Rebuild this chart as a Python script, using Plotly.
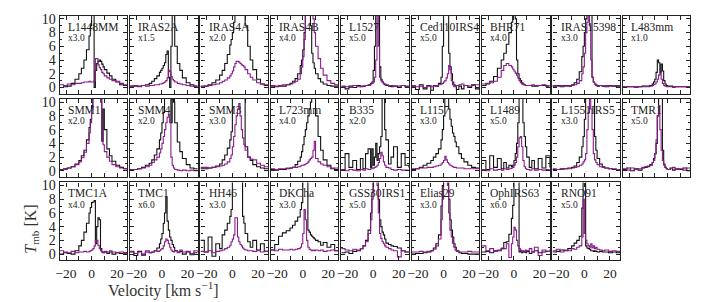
import plotly.graph_objects as go

# shared velocity channels (km/s); each value holds until the next channel
velocity = [-25, -22, -19, -16, -13, -10, -8, -6, -4, -2, -1, 0, 1, 2, 3, 4, 5, 6, 7, 8, 9, 10, 12, 14, 16, 19, 22, 25, 28]

names = ["L1448MM", "IRAS2A", "IRAS4A", "IRAS4B", "L1527", "Ced110IRS4", "BHR71", "IRAS15398", "L483mm",
         "SMM1", "SMM4", "SMM3", "L723mm", "B335", "L1157", "L1489", "L1551IRS5", "TMR1",
         "TMC1A", "TMC1", "HH46", "DKCha", "GSS30IRS1", "Elias29", "OphIRS63", "RNO91"]
scale_labels = ["x3.0", "x1.5", "x2.0", "x4.0", "x5.0", "x5.0", "x4.0", "x3.0", "x1.0",
                "x2.0", "x2.0", "x3.0", "x4.0", "x2.0", "x3.0", "x5.0", "x3.0", "x5.0",
                "x4.0", "x6.0", "x3.0", "x3.0", "x5.0", "x3.0", "x6.0", "x5.0"]

x_tick_vals = [-20, 0, 20]
x_tick_text = ["\u221220", "0", "20"]
y_tick_vals = [0, 2, 4, 6, 8, 10]

l1448mm_black = [0, 0.1, 0.2, 0.6, 1.2, 2, 2.8, 4, 5.5, 7.5, 9, 11, 11, 0, 2.5, 3.5, 3.8, 4.0, 3.8, 3.4, 3.0, 2.6, 2.1, 1.7, 1.2, 0.8, 0.4, 0.3, 0.3]
l1448mm_purple = [0.4, 0.3, 0.5, 0.4, 0.6, 0.6, 0.7, 0.8, 0.8, 0.9, 0.8, 0.8, 0.8, 1.0, 4.2, 4.2, 3.3, 2.9, 2.6, 2.2, 2.0, 1.7, 1.4, 1.2, 1.0, 0.9, 0.6, 0.4, 0.4]
iras2a_black = [0.2, 0.2, 0.2, 0.3, 0.4, 0.6, 0.9, 1.3, 1.7, 2.2, 2.5, 2.8, 3.2, 3.6, 4.8, 5.3, 1.5, 0.0, 6, 11, 11, 6, 3.5, 2.5, 1.4, 0.7, 0.4, 0.2, 0.2]
iras2a_purple = [0.2, 0.3, 0.1, 0.3, 0.2, 0.3, 0.3, 0.4, 0.4, 0.5, 0.5, 0.6, 0.7, 0.8, 1.0, 1.4, 2.5, 2.3, 1.6, 1.2, 1.0, 0.8, 0.6, 0.5, 0.4, 0.3, 0.2, 0.2, 0.2]
iras4a_black = [0.1, 0.2, 0.4, 0.7, 1.1, 1.8, 2.5, 3.5, 4.8, 6.2, 7, 8, 9.5, 11, 12, 12, 12, 12, 12, 12, 12, 9, 6, 4, 2.6, 1.2, 0.5, 0.3, 0.3]
iras4a_purple = [0.2, 0.2, 0.3, 0.4, 0.5, 0.7, 0.9, 1.1, 1.4, 1.7, 2.0, 2.4, 3.0, 3.5, 3.8, 3.8, 3.7, 3.5, 3.3, 3.2, 3.0, 2.6, 2.0, 1.5, 1.1, 0.7, 0.5, 0.4, 0.4]
iras4b_black = [0.2, 0.1, 0.2, 0.2, 0.4, 0.6, 0.9, 1.3, 2.0, 3.2, 4.0, 5.5, 8, 12, 12, 12, 12, 9, 5, 3.6, 2.8, 2.0, 1.3, 0.8, 0.5, 0.3, 0.2, 0.2, 0.2]
iras4b_purple = [0.3, 0.2, 0.3, 0.4, 0.4, 0.5, 0.7, 0.9, 1.2, 2.0, 3, 4.5, 7, 12, 12, 12, 12, 12, 12, 10, 8, 6, 4.2, 2.8, 1.8, 1.0, 0.6, 0.4, 0.4]
l1527_black = [0.1, -0.2, 0.2, 0.0, 0.3, 0.1, 0.2, 0.3, 0.4, 0.6, 0.8, 2.5, 6, 12, 12, 12, 3, 1.2, 0.8, 0.5, 0.4, 0.3, 0.2, 0.1, 0.2, 0.0, 0.3, 0.1, 0.1]
l1527_purple = [0.2, 0.1, 0.0, 0.3, 0.1, 0.2, 0.2, 0.3, 0.3, 0.5, 0.6, 0.8, 1.5, 4, 12, 6, 1.5, 1.0, 0.8, 0.6, 0.5, 0.4, 0.3, 0.3, 0.2, 0.2, 0.3, 0.2, 0.2]
ced110_black = [0.2, -0.3, 0.4, -0.2, 0.3, -0.4, 0.3, 0.2, 0.6, 1.5, 6, 12, 12, 12, 12, 5, 3, 2, 0.8, 0.4, 0.3, -0.3, 0.2, -0.2, 0.3, 0.0, 0.4, -0.2, 0.1]
ced110_purple = [0.3, 0.1, 0.2, 0.0, 0.2, 0.1, 0.2, 0.3, 0.4, 0.5, 0.6, 0.8, 1.0, 1.4, 2.0, 3.2, 2.6, 1.0, 0.4, 0.1, 0.2, 0.3, 0.4, 0.5, 0.3, 0.2, 0.3, 0.4, 0.3]
bhr71_black = [0.3, 0.5, 0.9, 1.6, 2.8, 4.0, 5.0, 6.3, 8.0, 9.5, 11, 12, 10, 4, 2, 1.3, 1.0, 0.7, 0.5, 0.4, 0.3, 0.3, 0.3, 0.2, 0.2, 0.3, 0.3, 0.2, 0.2]
bhr71_purple = [0.5, 0.6, 0.7, 0.9, 1.5, 2.5, 3.2, 3.5, 3.2, 3.0, 2.7, 2.4, 2.1, 1.8, 1.4, 1.0, 0.7, 0.5, 0.4, 0.4, 0.3, 0.3, 0.3, 0.4, 0.3, 0.3, 0.4, 0.3, 0.3]
iras15398_black = [0.2, 0.3, 0.1, 0.3, 0.2, 0.4, 0.7, 1.2, 2.3, 4.5, 6, 8, 10, 12, 12, 12, 12, 1.5, 0.8, 0.5, 0.3, 0.2, 0.3, 0.2, 0.1, 0.3, 0.2, 0.1, 0.2]
iras15398_purple = [0.3, 0.2, 0.3, 0.2, 0.3, 0.3, 0.4, 0.6, 1.0, 2, 3, 5, 8, 9.5, 10.5, 9, 4, 1.5, 0.8, 0.5, 0.4, 0.3, 0.3, 0.2, 0.3, 0.2, 0.3, 0.3, 0.3]
l483mm_black = [0.1, 0.1, 0.1, 0.1, 0.1, 0.2, 0.2, 0.2, 0.3, 0.5, 0.8, 1.2, 2.2, 4.0, 3.6, 2.2, 3.4, 2.4, 1.0, 0.5, 0.3, 0.2, 0.2, 0.1, 0.1, 0.1, 0.1, 0.1, 0.1]
l483mm_purple = [0.0, 0.1, 0.1, 0.0, 0.1, 0.1, 0.1, 0.1, 0.2, 0.3, 0.4, 0.5, 0.8, 1.2, 1.8, 2.1, 1.2, 0.6, 0.3, 0.2, 0.1, 0.1, 0.1, 0.0, 0.1, 0.1, 0.1, 0.1, 0.1]

smm1_black = [0.2, 0.3, 0.4, 0.6, 1.0, 1.5, 2.2, 3, 4.5, 6.3, 7.5, 9.5, 12, 12, 12, 12, 12, 12, 12, 4.3, 9, 6, 3.2, 2.2, 1.4, 0.8, 0.5, 0.3, 0.3]
smm1_purple = [0.1, 0.2, 0.4, 0.6, 0.9, 1.3, 1.9, 2.7, 4, 5.5, 7, 9, 12, 12, 12, 12, 12, 12, 10, 6, 3.8, 2.8, 2.0, 1.4, 0.9, 0.6, 0.4, 0.3, 0.3]
smm4_black = [0.2, 0.2, 0.3, 0.5, 0.8, 1.1, 1.6, 2.3, 3.2, 4.5, 5.5, 7, 8.5, 11, 12, 12, 12, 12, 7, 12, 10, 7, 4.2, 2.8, 1.8, 0.9, 0.4, 0.3, 0.3]
smm4_purple = [0.1, 0.2, 0.3, 0.4, 0.6, 0.8, 1.2, 1.6, 2.0, 2.6, 3.2, 4, 5, 6, 7, 7.8, 8.2, 7, 2, 0.8, 0.4, 0.2, 0.1, 0.0, 0.1, 0.0, 0.1, 0.0, 0.0]
smm3_black = [0.3, 0.3, 0.4, 0.5, 0.7, 1.0, 1.6, 2.3, 3.3, 4.5, 5.7, 12, 12, 12, 12, 12, 12, 12, 12, 12, 12, 3.5, 2.0, 1.5, 0.9, 0.6, 0.4, 0.3, 0.3]
smm3_purple = [0.5, 0.5, 0.4, 0.5, 0.6, 0.7, 0.8, 1.0, 1.3, 1.8, 2.3, 3.5, 5, 6.7, 8, 9, 9.8, 8, 6, 4.8, 3.8, 3.0, 2.0, 1.7, 1.6, 1.1, 0.8, 0.6, 0.6]
l723mm_black = [0.2, 0.1, 0.2, 0.2, 0.3, 0.4, 0.5, 0.9, 1.4, 2.0, 2.8, 3.8, 5, 6, 7, 8, 9, 10, 11, 12, 12, 8, 5, 3, 1.6, 0.8, 0.3, 0.2, 0.2]
l723mm_purple = [0.3, 0.2, 0.3, 0.3, 0.4, 0.4, 0.5, 0.5, 0.6, 0.7, 0.8, 0.8, 0.9, 1.0, 1.1, 1.3, 1.6, 1.8, 2.0, 3.0, 4.3, 1.8, 1.3, 1.0, 0.8, 0.6, 0.4, 0.4, 0.3]
b335_black = [0.2, 2.5, 0.5, 1.5, 0.2, 1.8, 0.3, 2.5, 3.2, 0.5, 3.2, 0.8, 2.0, 4.0, 1.5, 2.5, 3.5, 5, 12, 12, 6, 4.5, 1.0, 2.0, 3.5, 0.5, 2.5, 0.8, 0.5]
b335_purple = [0.1, 0.0, 0.2, 0.1, 0.0, 0.2, 0.1, 0.3, 0.2, 0.3, 0.3, 0.4, 0.5, 0.6, 0.8, 1.2, 1.8, 2.7, 2.2, 1.3, 0.8, 0.5, 0.4, 0.2, 0.1, 0.2, 0.1, 0.1, 0.1]
l1157_black = [0.2, 0.3, 0.5, 0.8, 1.1, 1.5, 2.0, 2.5, 3.2, 4.5, 6, 8, 12, 12, 12, 9, 7.5, 6.5, 5.5, 5, 4.2, 3.5, 2.5, 1.8, 1.3, 0.8, 0.5, 0.4, 0.3]
l1157_purple = [0.3, 0.3, 0.4, 0.4, 0.5, 0.5, 0.6, 0.7, 0.8, 1.0, 1.2, 1.5, 2.1, 1.6, 1.2, 1.0, 0.8, 0.7, 0.6, 0.5, 0.5, 0.4, 0.4, 0.4, 0.3, 0.3, 0.3, 0.3, 0.3]
l1489_black = [1.5, 0.2, 2.2, 0.5, 1.8, 0.3, 1.2, 0.4, 0.8, 0.6, 0.8, 1.5, 2.5, 4, 7, 12, 12, 12, 7, 5, 3.5, 2, 0.5, 1.5, 0.3, 1.8, 0.4, 2.2, 0.5]
l1489_purple = [0.2, 0.0, 0.3, 0.1, 0.2, 0.1, 0.3, 0.2, 0.3, 0.4, 0.5, 0.8, 1.2, 2, 3.5, 4.8, 5.0, 3.5, 1.5, 0.6, 0.3, 0.2, 0.1, 0.3, 0.1, 0.2, 0.1, 0.2, 0.1]
l1551_black = [0.2, 0.2, 0.3, 0.3, 0.4, 0.5, 0.7, 1.2, 2.0, 3.5, 5, 7.5, 12, 12, 12, 12, 12, 12, 12, 5, 3, 1.8, 1.0, 0.6, 0.4, 0.3, 0.2, 0.2, 0.2]
l1551_purple = [0.3, 0.2, 0.2, 0.3, 0.3, 0.4, 0.5, 0.6, 0.8, 1.0, 1.3, 1.6, 2.5, 6, 8.5, 10.5, 9, 6, 2.5, 1.6, 1.2, 0.9, 0.6, 0.5, 0.4, 0.3, 0.3, 0.2, 0.2]
tmr1_black = [0.2, 0.4, 0.0, 0.3, 0.1, 0.4, 0.5, 0.6, 0.8, 1.2, 1.8, 2.5, 4, 8, 12, 12, 12, 3, 1, 0.5, 0.3, 0.2, 0.4, 0.1, 0.3, 0.2, 0.4, 0.0, 0.3]
tmr1_purple = [0.3, 0.1, 0.4, 0.2, 0.3, 0.5, 0.6, 0.7, 0.9, 1.2, 1.5, 2.5, 4.5, 8, 9.5, 6, 3, 1.5, 0.8, 0.5, 0.3, 0.2, 0.3, 0.5, 0.2, 0.3, 0.1, 0.4, 0.2]

tmc1a_black = [0.0, 0.2, 0.1, 0.0, 0.5, 1.2, 2.0, 3.2, 4.5, 6, 6.8, 7.5, 7.6, 7.8, 1.5, 4.0, 5.3, 5.0, 0.8, 0.3, 0.2, 0.3, 0.1, 0.3, 0.0, 0.2, 0.1, 0.2, 0.0]
tmc1a_purple = [0.5, 0.3, 0.2, 0.4, 0.2, 0.3, 0.3, 0.4, 0.3, 0.4, 0.5, 0.6, 0.8, 1.2, 2, 2, 1.3, 0.8, 0.5, 0.3, 0.2, 0.4, 0.3, 0.5, 0.3, 0.2, 0.3, 0.1, 0.2]
tmc1_black = [0.3, -0.2, 0.4, 0.0, 0.3, 0.2, 0.3, 0.5, 0.9, 1.5, 2.2, 3, 4.5, 6, 8.3, 4.8, 3.5, 2.5, 2, 1.4, 1.0, 0.5, 0.3, 0.4, 0.0, 0.3, -0.1, 0.2, 0.2]
tmc1_purple = [0.4, 0.1, 0.3, -0.2, 0.5, 0.2, 0.3, 0.5, 0.4, 0.5, 0.7, 0.8, 1.2, 1.8, 2.2, 2.0, 1.5, 1.0, 0.6, 0.4, 0.3, 0.5, 0.2, 0.6, 0.3, 0.4, 0.1, 0.5, 0.3]
hh46_black = [2.0, 0.3, 2.5, -0.3, 1.5, 0.8, 2.8, 3.5, 4.5, 5.5, 6.5, 12, 12, 12, 12, 12, 12, 12, 12, 5.5, 4.5, 3.0, 1.8, 1.0, 2.0, 0.6, 1.5, 0.4, 0.4]
hh46_purple = [0.4, 0.3, 0.5, 0.2, 0.4, 0.5, 0.6, 0.8, 1.0, 1.3, 1.8, 2.2, 2.8, 5.3, 5.3, 2.5, 1.8, 1.4, 1.2, 0.9, 0.7, 0.6, 0.5, 0.5, 0.4, 0.5, 0.3, 0.4, 0.4]
dkcha_black = [0.6, 1.4, 2.6, 3.1, 3.4, 3.8, 4.2, 4.8, 5.4, 6.5, 7.5, 12, 12, 12, 12, 3.5, 3.2, 2.8, 2.6, 2.4, 2.2, 2.0, 1.8, 1.3, 1.7, 1.0, 1.4, 0.5, 0.3]
dkcha_purple = [0.6, 0.5, 0.7, 0.6, 0.6, 0.7, 0.6, 0.7, 0.8, 1.0, 1.5, 3.0, 6.5, 5.0, 2.0, 1.0, 0.7, 0.6, 0.5, 0.6, 0.5, 0.6, 0.5, 0.6, 0.4, 0.5, 0.6, 0.5, 0.5]
gss30_black = [0.2, 0.3, 0.1, 0.4, 0.5, 0.8, 1.2, 2.0, 3.5, 6, 9, 12, 12, 12, 12, 8, 5, 4, 3.2, 2.8, 2.2, 1.6, 1.4, 1.2, 1.1, 0.9, 0.5, 0.3, 0.3]
gss30_purple = [0.8, 0.6, 0.5, 0.7, 0.6, 0.8, 1.2, 1.8, 3, 5, 8, 12, 12, 12, 10, 6, 3, 2.3, 1.8, 1.5, 1.2, 1.0, 0.8, 0.6, 0.5, -0.4, 0.5, 0.3, 0.4]
elias29_black = [0.0, 0.1, 0.1, 0.2, 0.3, 0.5, 0.9, 1.5, 2.8, 7, 10, 12, 12, 12, 12, 8, 5, 3.5, 2.5, 1.5, 1.0, 0.5, 0.2, 0.1, 0.1, 0.0, 0.0, 0.0, 0.0]
elias29_purple = [0.3, 0.3, 0.4, 0.3, 0.4, 0.5, 0.7, 1.2, 2.2, 5, 8, 12, 12, 12, 10, 6, 3.5, 2.5, 1.6, 1.0, 0.6, 0.4, 0.3, 0.3, 0.3, 0.4, 0.3, 0.3, 0.3]
ophirs63_black = [0.3, 0.4, 0.2, 0.5, 0.5, 0.8, 1.7, 1.8, 2.9, 5.2, 7.1, 12, 12, 12, 12, 0.3, 0.5, 0.2, 0.4, 0.3, 0.2, 0.4, 0.1, 0.3, 0.5, 0.2, 0.3, 0.4, 0.4]
ophirs63_purple = [1.2, 0.5, 0.8, 0.4, 0.6, 0.9, 0.8, 1.5, -0.5, 1.5, 2.5, 3.9, 3.5, 2, 1.2, 0.8, 0.6, 0.4, 0.5, 0.3, 0.6, 0.5, 0.8, 0.3, 1.0, -0.2, 0.6, 0.4, 0.7]
rno91_black = [0.3, 0.4, 0.6, 0.5, 0.8, 1.2, 1.6, 2.0, 2.6, 6.7, 12, 12, 1.2, 0.9, 0.8, 0.7, 0.5, 0.5, 0.4, 0.5, 0.4, 0.3, 0.4, 0.3, 0.3, 0.2, 0.3, 0.2, 0.3]
rno91_purple = [0.5, 0.7, 0.3, 0.6, 0.5, 0.8, 0.7, 1.0, 1.2, 2.5, 8, 3, 2, 1.5, 1.2, 1.0, 1.5, 0.9, 1.2, 0.8, 1.0, 0.7, 0.6, 0.5, 0.6, 0.4, 0.5, 0.4, 0.5]

black_series = [l1448mm_black, iras2a_black, iras4a_black, iras4b_black, l1527_black, ced110_black, bhr71_black,
                iras15398_black, l483mm_black, smm1_black, smm4_black, smm3_black, l723mm_black, b335_black,
                l1157_black, l1489_black, l1551_black, tmr1_black, tmc1a_black, tmc1_black, hh46_black,
                dkcha_black, gss30_black, elias29_black, ophirs63_black, rno91_black]
purple_series = [l1448mm_purple, iras2a_purple, iras4a_purple, iras4b_purple, l1527_purple, ced110_purple, bhr71_purple,
                 iras15398_purple, l483mm_purple, smm1_purple, smm4_purple, smm3_purple, l723mm_purple, b335_purple,
                 l1157_purple, l1489_purple, l1551_purple, tmr1_purple, tmc1a_purple, tmc1_purple, hh46_purple,
                 dkcha_purple, gss30_purple, elias29_purple, ophirs63_purple, rno91_purple]

W, H = 704, 302
PW, PH = 68, 79.5
col_left = [56 + 70.8 * i for i in range(9)]
row_top = [12, 97, 182]
SERIF = "Liberation Serif, DejaVu Serif, serif"
BLACK = "#111111"
PURPLE = "#8a1a8a"
AX = "#222222"

fig = go.Figure()
layout = {}
annotations = []
for k, name in enumerate(names):
    r = 0 if k < 9 else (1 if k < 18 else 2)
    c = k - 9 * r
    idx = k + 1
    xa = "x" if idx == 1 else f"x{idx}"
    ya = "y" if idx == 1 else f"y{idx}"
    fig.add_trace(go.Scatter(x=velocity, y=black_series[k], mode="lines",
                             line=dict(color=BLACK, width=1.1, shape="hv"),
                             xaxis=xa, yaxis=ya, showlegend=False, hoverinfo="skip"))
    fig.add_trace(go.Scatter(x=velocity, y=purple_series[k], mode="lines",
                             line=dict(color=PURPLE, width=1.1, shape="hv"),
                             xaxis=xa, yaxis=ya, showlegend=False, hoverinfo="skip"))
    x0 = col_left[c] / W
    x1 = (col_left[c] + PW) / W
    y1 = 1 - row_top[r] / H
    y0 = 1 - (row_top[r] + PH) / H
    xkey = "xaxis" if idx == 1 else f"xaxis{idx}"
    ykey = "yaxis" if idx == 1 else f"yaxis{idx}"
    layout[xkey] = dict(domain=[x0, x1], anchor=ya, range=[-25, 28],
                        tickmode="array", tickvals=x_tick_vals, ticktext=x_tick_text,
                        showticklabels=(r == 2), ticks="inside", ticklen=4, tickwidth=1,
                        tickcolor=AX, showline=True, linecolor=AX, linewidth=1.3,
                        mirror="ticks", showgrid=False, zeroline=False,
                        minor=dict(tickvals=[-10, 10], ticklen=4, ticks="inside", tickcolor=AX),
                        tickfont=dict(family=SERIF, size=13.5, color=AX))
    layout[ykey] = dict(domain=[y0, y1], anchor=xa, range=[-0.9, 10.45],
                        tickmode="array", tickvals=y_tick_vals,
                        showticklabels=(c == 0), ticks="inside", ticklen=4, tickwidth=1,
                        tickcolor=AX, showline=True, linecolor=AX, linewidth=1.3,
                        mirror="ticks", showgrid=False, zeroline=False,
                        minor=dict(dtick=1, ticklen=2, ticks="inside", tickcolor=AX),
                        tickfont=dict(family=SERIF, size=14, color=AX))
    annotations.append(dict(xref=f"{xa} domain", yref=f"{ya} domain", x=0.09, y=0.86,
                            xanchor="left", yanchor="middle", text=name, showarrow=False,
                            font=dict(family=SERIF, size=11.5, color=AX)))
    annotations.append(dict(xref=f"{xa} domain", yref=f"{ya} domain", x=0.09, y=0.715,
                            xanchor="left", yanchor="middle", text=scale_labels[k], showarrow=False,
                            font=dict(family=SERIF, size=9.5, color=AX)))

annotations.append(dict(xref="paper", yref="paper", x=160 / W, y=1 - 291 / H,
                        xanchor="center", yanchor="middle",
                        text="Velocity [km s<sup>\u22121</sup>]", showarrow=False,
                        font=dict(family=SERIF, size=16, color="#333")))
annotations.append(dict(xref="paper", yref="paper", x=27.5 / W, y=1 - 230 / H,
                        xanchor="center", yanchor="middle", textangle=-90,
                        text="<i>T</i><sub>mb</sub> [K]", showarrow=False,
                        font=dict(family=SERIF, size=16, color="#333")))

fig.update_layout(width=W, height=H, margin=dict(l=0, r=0, t=0, b=0),
                  paper_bgcolor="white", plot_bgcolor="white",
                  annotations=annotations, **layout)
fig.write_html("out.html", config={"displayModeBar": False},
               post_script="document.body.style.margin='0';document.body.style.padding='0';")
